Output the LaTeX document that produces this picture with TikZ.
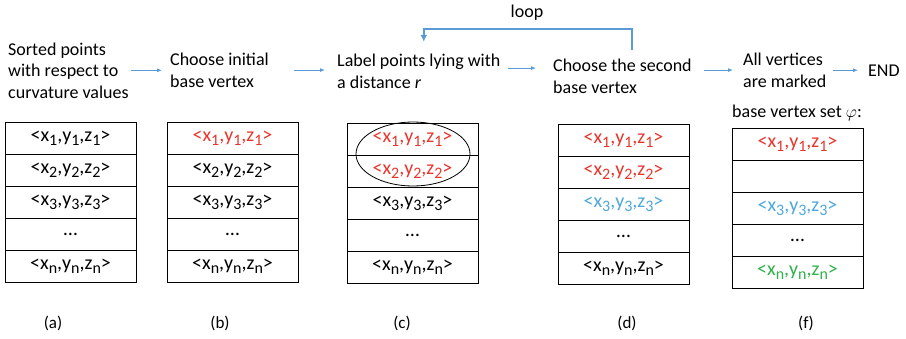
\documentclass[tikz,border=0pt]{standalone}
\usepackage{fontspec}
\setmainfont{Carlito}
\usetikzlibrary{arrows.meta}
\definecolor{flowblue}{HTML}{5B9BD5}
\definecolor{ptred}{HTML}{E8352B}
\definecolor{ptblue}{HTML}{4DA8DA}
\definecolor{ptgreen}{HTML}{2EB24A}
\def\idx#1{\raisebox{-0.45ex}{\fontsize{16}{16}\selectfont#1}}
\def\tup#1{<x\idx{#1},y\idx{#1},z\idx{#1}>}
% table of five rows: (left,top){name}{entries}
\def\pttable(#1,#2)#3#4{%
	\draw[cell] (#1,#2) rectangle ++(131,160);
	\foreach \k in {1,...,4} \draw[cell] (#1,#2+32*\k) -- ++(131,0);
	\foreach \e [count=\i] in {#4} \node[tuple] (#3\i) at (#1+65.5,#2+32*\i-16) {\e};
}

\begin{document}
\begin{tikzpicture}[x=1pt, y=-1pt,
		txt/.style={anchor=base west, align=left, inner sep=0pt, font=\fontsize{18}{21.5}\selectfont},
		tuple/.style={inner sep=0pt, font=\fontsize{20}{20}\selectfont},
		sub/.style={inner sep=0pt, font=\fontsize{17}{18}\selectfont},
		cell/.style={line width=0.9pt, draw=black},
		flow/.style={line width=0.8pt, draw=flowblue, -{Latex[length=5pt,width=4pt]}},
		loopline/.style={line width=2pt, draw=flowblue, -{Latex[length=7pt,width=7pt]}}]
		%%%%% START %%%%%
		\useasboundingbox (0,0) rectangle (906,338);
		
		% steps (anchored at the last line)
		\node[txt] (sorted) at (8,98) {Sorted points\\with respect to\\curvature values};
		\node[txt] (initial) at (170,87) {Choose initial\\base vertex};
		\node[txt] (label) at (337,88) {Label points lying with\\a distance \textit{r}};
		\node[txt] (second) at (553,93) {Choose the second\\base vertex};
		\node[txt] (marked) at (743,87) {All vertices\\are marked};
		\node[txt] (end) at (868,76) {END};
		\node[txt] (setlabel) at (732,117) {base vertex set $\varphi$:};
		\node[txt, anchor=base] (looplabel) at (527,17) {loop};
		
		\draw[flow, shorten <=2pt, shorten >=8pt] (sorted.east) -- (sorted.east -| initial.west);
		\draw[flow, shorten <=25pt, shorten >=12pt] (initial.east) -- (initial.east -| label.west);
		\draw[flow, shorten <=7pt, shorten >=17pt] ([yshift=3pt]label.east) -- ([yshift=3pt]label.east -| second.west);
		\draw[flow, shorten <=12pt, shorten >=10pt] (second.east |- marked.west) -- (marked.west);
		\draw[flow, shorten <=7pt, shorten >=10pt] (marked.east |- end.west) -- (end.west);
		
		\coordinate (looptop) at (527,29);
		\draw[loopline, shorten >=12pt] ([shift={(10,-9)}]second.north) |- (looptop) -| ([xshift=5pt]label.north);
		
		% point tables
		\pttable(5,122){a}{{\tup{1}},{\tup{2}},{\tup{3}},{\dots},{\tup{n}}}
		\pttable(167,122){b}{{\color{ptred}\tup{1}},{\tup{2}},{\tup{3}},{\dots},{\tup{n}}}
		\pttable(347,123){c}{{\color{ptred}\tup{1}},{\color{ptred}\tup{2}},{\tup{3}},{\dots},{\tup{n}}}
		\pttable(558,124){d}{{\color{ptred}\tup{1}},{\color{ptred}\tup{2}},{\color{ptblue}\tup{3}},{\dots},{\tup{n}}}
		\pttable(732,128){f}{{\color{ptred}\tup{1}},{},{\color{ptblue}\tup{3}},{\dots},{\color{ptgreen}\tup{n}}}
		
		\draw[line width=0.8pt] (413,154) ellipse [x radius=57, y radius=32];
		
		\foreach \t/\x in {a/53,b/220,c/402,d/627,f/806}
			\node[sub] (lab\t) at (\x,323) {(\t)};
		
		%%%%% END %%%%%
	\end{tikzpicture}
\end{document}
